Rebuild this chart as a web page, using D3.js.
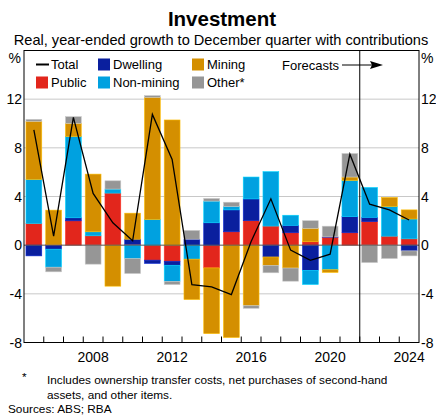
<!DOCTYPE html>
<html><head><meta charset="utf-8">
<script src="https://cdn.jsdelivr.net/npm/d3@7"></script>
<style>body{margin:0;background:#fff;} svg{display:block;font-family:"Liberation Sans",Arial,sans-serif;}</style>
</head><body>
<svg id="c" width="436" height="416"></svg>
<script>
const years = [2005,2006,2007,2008,2009,2010,2011,2012,2013,2014,2015,2016,2017,2018,2019,2020,2021,2022,2023,2024];
const publicV   = [1.78, 0.05, 2.0, 0.77, 4.28, 0.08, -1.23, -1.32, 0, -1.87, 1.10, 2.01, 1.57, 1.02, 0.28, 0.65, 1.02, 1.93, 0.74, 0.52];
const dwelling  = [-0.88, -0.33, 0.25, 0, 0, 0.41, -0.27, -0.33, 0.49, 1.84, 1.80, 1.79, -0.97, 0.61, -2.07, 0.03, 1.32, 0.36, 0, -0.47];
const nonMining = [3.62, -1.48, 6.67, 0.33, 0.33, -1.10, 2.11, -1.32, -1.15, 1.78, 0.27, 1.80, 4.47, 0.83, -1.16, -2.02, 2.98, 2.45, 2.43, 1.63];
const mining    = [4.78, 2.83, 1.09, 4.74, -3.37, 2.14, 10.04, 10.29, -3.32, -5.40, -7.59, -4.97, -0.69, -1.88, 1.10, -0.22, 0.28, 0, 0.75, 0.75];
const other     = [0.16, -0.38, 0.55, -1.56, 0.68, -1.23, 0.14, -0.27, 0.72, 0.22, 0.36, -0.22, -0.61, -1.08, 0.63, 0.88, 1.93, -1.43, -1.10, -0.41];
const total     = [9.47, 0.74, 10.5, 4.25, 1.84, 0.36, 10.75, 7.05, -3.24, -3.43, -4.06, 0.3, 3.81, -0.41, -1.24, -0.74, 7.48, 3.37, 2.90, 2.07];
const yTicks = [-8,-4,0,4,8,12];
const xLabels = [2008,2012,2016,2020,2024];
const forecastStart = 2022;

const keys = ["Public","Dwelling","Non-mining","Mining","Other*"];
const colors = {"Public":"#e2261c","Dwelling":"#0a1f9e","Non-mining":"#00a1e0","Mining":"#d48f00","Other*":"#969696"};
const seriesArr = [publicV, dwelling, nonMining, mining, other];
const rows = years.map((y,i)=>{const r={year:y}; keys.forEach((k,j)=>r[k]=seriesArr[j][i]); return r;});

const svg = d3.select("#c");
const L=24, R=419, T=50.5, B=342.5;
const xb = d3.scaleBand().domain(years).range([L,R]);
const y = d3.scaleLinear().domain([-8,16]).range([B,T]);

// gridlines
svg.append("g").selectAll("line").data(yTicks.filter(d=>d!==0)).join("line")
  .attr("x1",L).attr("x2",R).attr("y1",d=>y(d)).attr("y2",d=>y(d))
  .attr("stroke","#c8c8c8").attr("stroke-width",1);

// bars
const stack = d3.stack().keys(keys).offset(d3.stackOffsetDiverging).order(d3.stackOrderNone);
const stacked = stack(rows);
const bw = xb.bandwidth()*0.8;
svg.append("g").selectAll("g").data(stacked).join("g")
  .attr("fill",d=>colors[d.key])
  .attr("stroke",d=>d3.color(colors[d.key]).brighter(0.8))
  .attr("stroke-width",0.6)
  .selectAll("rect").data(d=>d.filter(s=>s[1]-s[0]!==0)).join("rect")
  .attr("x",d=>xb(d.data.year)+(xb.bandwidth()-bw)/2)
  .attr("width",bw)
  .attr("y",d=>y(Math.max(d[0],d[1])))
  .attr("height",d=>Math.abs(y(d[0])-y(d[1])));

// zero line
svg.append("line").attr("x1",L).attr("x2",R).attr("y1",y(0)).attr("y2",y(0))
  .attr("stroke","#555").attr("stroke-width",1);

// total line
const line = d3.line().x((d,i)=>xb(years[i])+xb.bandwidth()/2).y(d=>y(d));
svg.append("path").datum(total).attr("d",line).attr("fill","none")
  .attr("stroke","#000").attr("stroke-width",1.3);

// forecast divider
const fx = xb(forecastStart);
svg.append("line").attr("x1",fx).attr("x2",fx).attr("y1",T).attr("y2",B)
  .attr("stroke","#000").attr("stroke-width",1);

// frame
svg.append("rect").attr("x",L).attr("y",T).attr("width",R-L).attr("height",B-T)
  .attr("fill","none").attr("stroke","#000").attr("stroke-width",1);

// x ticks (inside, at band boundaries)
svg.append("g").selectAll("line").data(years.slice(1)).join("line")
  .attr("x1",d=>xb(d)).attr("x2",d=>xb(d)).attr("y1",B).attr("y2",B-6)
  .attr("stroke","#000").attr("stroke-width",1);

// x labels
svg.append("g").selectAll("text").data(xLabels).join("text")
  .attr("x",d=>xb(d)+xb.bandwidth()/2).attr("y",362)
  .attr("text-anchor","middle").attr("font-size",14).text(d=>d);

// y labels
svg.append("g").selectAll("text").data(yTicks).join("text")
  .attr("x",22).attr("y",d=>y(d)+5).attr("text-anchor","end").attr("font-size",14).text(d=>d);
svg.append("g").selectAll("text").data(yTicks).join("text")
  .attr("x",421).attr("y",d=>y(d)+5).attr("text-anchor","start").attr("font-size",14).text(d=>d);
svg.append("text").attr("x",21).attr("y",63).attr("text-anchor","end").attr("font-size",14).text("%");
svg.append("text").attr("x",421).attr("y",63).attr("text-anchor","start").attr("font-size",14).text("%");

// title
svg.append("text").attr("x",222).attr("y",26).attr("text-anchor","middle")
  .attr("font-size",20.5).attr("font-weight","bold").text("Investment");
svg.append("text").attr("x",221).attr("y",44.5).attr("text-anchor","middle")
  .attr("font-size",14.6).text("Real, year-ended growth to December quarter with contributions");

// legend
const leg = svg.append("g").attr("font-size",13);
leg.append("line").attr("x1",36).attr("x2",49).attr("y1",64.5).attr("y2",64.5).attr("stroke","#000").attr("stroke-width",2);
leg.append("text").attr("x",51).attr("y",69).text("Total");
const legItems = [
  {k:"Dwelling",x:98,y:58.5},{k:"Mining",x:192,y:58.5},
  {k:"Public",x:36,y:76.5},{k:"Non-mining",x:98,y:76.5},{k:"Other*",x:192,y:76.5}
];
legItems.forEach(d=>{
  leg.append("rect").attr("x",d.x).attr("y",d.y).attr("width",12).attr("height",12).attr("fill",colors[d.k]);
  leg.append("text").attr("x",d.x+15).attr("y",d.y+10.5).text(d.k);
});

// forecasts annotation
svg.append("text").attr("x",282).attr("y",69.5).attr("font-size",13).text("Forecasts");
svg.append("line").attr("x1",342).attr("x2",372).attr("y1",65).attr("y2",65).attr("stroke","#000").attr("stroke-width",1);
svg.append("path").attr("d","M370,61 L383,65 L370,69 L372,65 Z").attr("fill","#000");

// footnotes
const fn = svg.append("g").attr("font-size",11.8);
fn.append("text").attr("x",22).attr("y",381).text("*");
fn.append("text").attr("x",47).attr("y",384).text("Includes ownership transfer costs, net purchases of second-hand");
fn.append("text").attr("x",47).attr("y",398.5).text("assets, and other items.");
fn.append("text").attr("x",8).attr("y",412.5).text("Sources: ABS; RBA");
</script>
</body></html>
